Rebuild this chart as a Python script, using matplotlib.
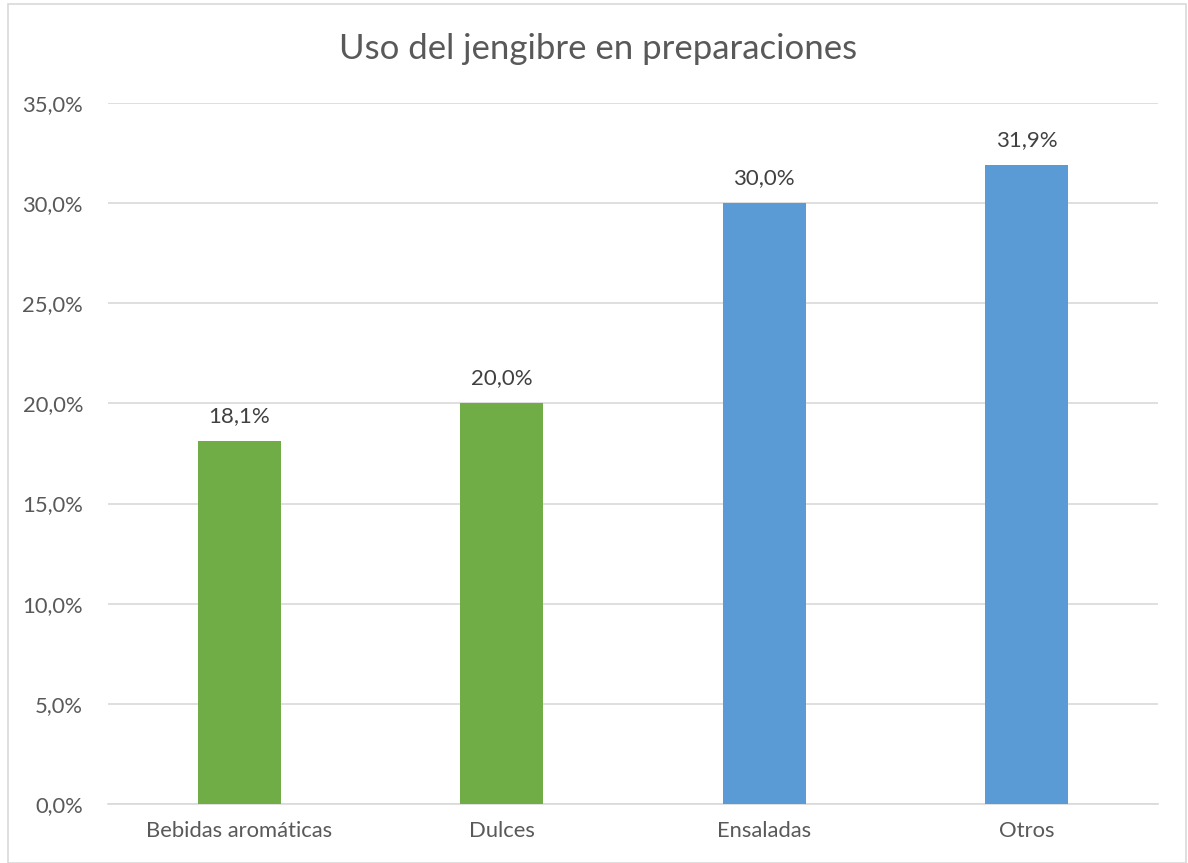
import matplotlib
matplotlib.use("Agg")
import matplotlib.pyplot as plt
from matplotlib.patches import Rectangle
from matplotlib.ticker import FuncFormatter, MultipleLocator

categories = ["Bebidas aromáticas", "Dulces", "Ensaladas", "Otros"]
values = [18.1, 20.0, 30.0, 31.9]
colors = ["#70AD47", "#70AD47", "#5B9BD5", "#5B9BD5"]
title = "Uso del jengibre en preparaciones"

plt.rcParams['font.family'] = ['Lato', 'DejaVu Sans']
text_color = "#595959"

fig = plt.figure(figsize=(11.88, 8.63), dpi=100)
fig.patches.append(Rectangle((8/1188, 0), 1178/1188, 1-4/863, transform=fig.transFigure,
                             fill=False, edgecolor="#D9D9D9", linewidth=1.2))
ax = fig.add_axes([108/1188, 1-804/863, 1050/1188, 701/863])

x = range(len(categories))
bars = ax.bar(x, values, width=0.316, color=colors, zorder=3)
ax.set_xlim(-0.5, 3.5)
ax.set_ylim(0, 35)
ax.yaxis.set_major_locator(MultipleLocator(5))
ax.yaxis.set_major_formatter(FuncFormatter(lambda v, p: f"{v:.1f}%".replace(".", ",")))
ax.set_xticks(list(x))
ax.set_xticklabels(categories)
ax.grid(axis='y', color="#D9D9D9", linewidth=1.2, zorder=0)
for s in ["top", "right", "left"]:
    ax.spines[s].set_visible(False)
ax.spines["bottom"].set_color("#D9D9D9")
ax.spines["bottom"].set_linewidth(1.2)
ax.tick_params(axis='both', length=0, labelsize=15.8, colors=text_color)
ax.tick_params(axis='x', pad=12)
ax.tick_params(axis='y', pad=18)

for b, v in zip(bars, values):
    ax.annotate(f"{v:.1f}%".replace(".", ","), (b.get_x() + b.get_width()/2, v),
                xytext=(0, 11), textcoords="offset points", ha="center", va="bottom",
                fontsize=16, color="#404040")

fig.text(0.503, 1-49/863, title, ha="center", va="center", fontsize=25, color=text_color)
fig.savefig("out.png", dpi=100)
